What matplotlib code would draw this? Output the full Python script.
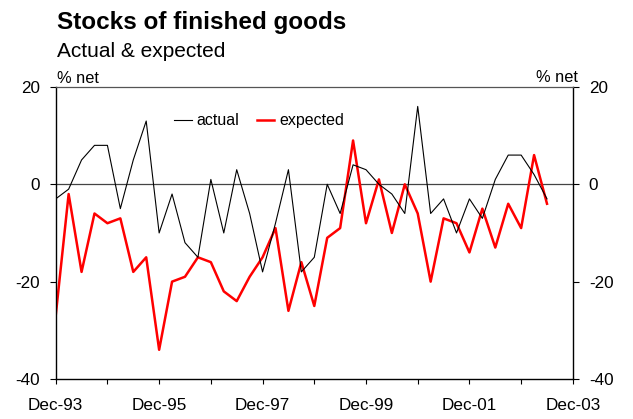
import matplotlib
matplotlib.use("Agg")
import matplotlib.pyplot as plt

plt.rcParams['font.family'] = ['Liberation Sans', 'DejaVu Sans']
plt.rcParams['axes.unicode_minus'] = False

# Quarterly, Dec-93 .. Jun-03
actual = [-3, -1, 5, 8, 8, -5, 5, 13, -10, -2, -12, -15, 1, -10, 3, -6, -18, -8, 3,
          -18, -15, 0, -6, 4, 3, 0, -2, -6, 16, -6, -3, -10, -3, -7, 1, 6, 6, 2, -3]
expected = [-27, -2, -18, -6, -8, -7, -18, -15, -34, -20, -19, -15, -16, -22, -24, -19,
            -15, -9, -26, -16, -25, -11, -9, 9, -8, 1, -10, 0, -6, -20, -7, -8, -14, -5,
            -13, -4, -9, 6, -4]
tick_labels = ["Dec-93", "Dec-95", "Dec-97", "Dec-99", "Dec-01", "Dec-03"]
yticks = [20, 0, -20, -40]

x = list(range(len(actual)))

fig = plt.figure(figsize=(6.33, 4.19), dpi=100)
ax = fig.add_axes([0.088, 0.0955, 0.817, 0.697])

ax.axhline(0, color='#444444', lw=0.9, zorder=1)
ax.plot(x, actual, color='black', lw=0.8, label='actual', zorder=3)
ax.plot(x, expected, color='#ff0000', lw=1.8, label='expected', zorder=2)

ax.set_xlim(0, 40)
ax.set_ylim(-40, 20)
ax.set_yticks(yticks)
ax.set_xticks(range(0, 41, 4), minor=True)
ax.set_xticks(range(0, 41, 8))
ax.set_xticklabels(tick_labels)
ax.tick_params(axis='x', which='both', direction='out', length=3.8, width=0.8, labelsize=12.3, pad=10)
ax.tick_params(axis='y', direction='out', length=4.5, width=0.8, labelsize=12.3,
               left=True, right=True, labelleft=True, labelright=True, pad=7)

for s in ['left', 'right', 'bottom']:
    ax.spines[s].set_color('black')
    ax.spines[s].set_linewidth(1.0)
ax.spines['top'].set_color('#555555')
ax.spines['top'].set_linewidth(0.9)

leg = ax.legend(loc='center', bbox_to_anchor=(0.393, 0.884), ncol=2, frameon=False,
                fontsize=11.5, handlelength=1.1, handletextpad=0.3, columnspacing=1.1,
                borderpad=0, borderaxespad=0)

fig.text(0.09, 0.931, "Stocks of finished goods", fontsize=17.5, fontweight='bold', ha='left', va='baseline')
fig.text(0.09, 0.864, "Actual & expected", fontsize=15, ha='left', va='baseline')
fig.text(0.09, 0.803, "% net", fontsize=11.8, ha='left', va='baseline')
fig.text(0.913, 0.805, "% net", fontsize=11.8, ha='right', va='baseline')

fig.savefig("out.png", dpi=100)
